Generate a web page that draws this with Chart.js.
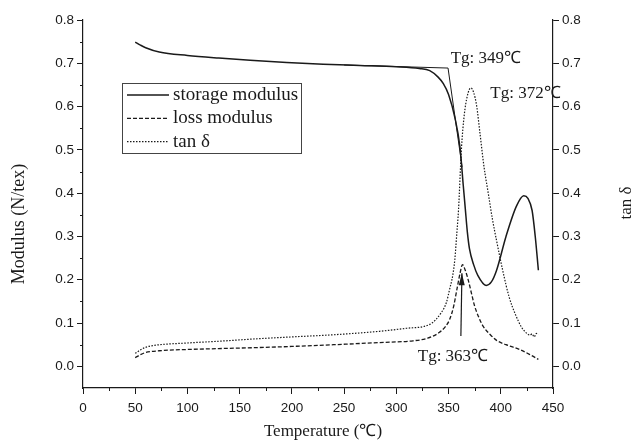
<!DOCTYPE html>
<html><head><meta charset="utf-8">
<script src="https://cdn.jsdelivr.net/npm/chart.js@4"></script>
<style>html,body{margin:0;padding:0;background:#fff}#wrap{width:640px;height:444px}</style>
</head><body><div id="wrap"><canvas id="c" width="640" height="444"></canvas></div>
<script>
const storageT = [50,55,60,73,100,130,160,195,230,265,300,322,332,340,345,350,356,361,364,366,368,370,374,378,386,391,396,405,415,422,426,430,433,436];
const storageV = [0.749,0.742,0.736,0.726,0.718,0.712,0.707,0.702,0.698,0.695,0.692,0.688,0.683,0.668,0.653,0.628,0.575,0.505,0.42,0.365,0.31,0.272,0.235,0.21,0.187,0.195,0.222,0.300,0.370,0.394,0.388,0.36,0.30,0.222];
const lossT = [50,55,60,73,100,130,162,200,240,284,316,330,341,347,351,355,358,361,363.3,366,369,372,375,379,383,390,396,405,418,428,436];
const lossV = [0.020,0.027,0.032,0.036,0.039,0.041,0.043,0.046,0.050,0.055,0.059,0.065,0.078,0.092,0.108,0.140,0.178,0.215,0.235,0.222,0.198,0.168,0.139,0.113,0.093,0.073,0.060,0.050,0.039,0.027,0.016];
const tanT = [50,55,60,67,100,130,162,200,240,284,310,332,343,348,351,354,356,358,359.5,362.4,365,368,371.3,374,377,380,384,388,392,396,402,408,414,420,425,428,430,432,434,436];
const tanV = [0.030,0.038,0.044,0.048,0.054,0.058,0.063,0.068,0.073,0.081,0.088,0.097,0.124,0.148,0.178,0.21,0.247,0.31,0.36,0.505,0.58,0.625,0.643,0.633,0.60,0.54,0.46,0.40,0.34,0.29,0.22,0.16,0.12,0.09,0.076,0.072,0.075,0.068,0.076,0.073];
const tangent1T = [250,349.5], tangent1V = [0.696,0.689];
const tangent2T = [349.5,363], tangent2V = [0.689,0.46];
const arrowT = [361.8,362.8], arrowV = [0.07,0.215];
const xTicks = [0,50,100,150,200,250,300,350,400,450];
const yTicks = [0.0,0.1,0.2,0.3,0.4,0.5,0.6,0.7,0.8];
const legendLabels = ['storage modulus','loss modulus','tan δ'];
const notes = [{t:'Tg: 349℃',x:352,y:0.712},{t:'Tg: 372℃',x:390,y:0.630},{t:'Tg: 363℃',x:320.5,y:0.023}];

const pts = (xs,ys)=>xs.map((x,i)=>({x,y:ys[i]}));
const INK = '#1a1a1a';
const styles = [
  {borderColor:INK,borderWidth:1.5,borderDash:[]},
  {borderColor:INK,borderWidth:1.3,borderDash:[4,2]},
  {borderColor:INK,borderWidth:1.2,borderDash:[1.5,1.5]}
];
const mk = (data,st,yAxisID,extra)=>Object.assign({data,yAxisID:yAxisID||'y',pointRadius:0,fill:false,cubicInterpolationMode:'monotone'},st,extra||{});

const decor = {
  id:'decor',
  afterDraw(chart){
    const ctx=chart.ctx, xs=chart.scales.x, ys=chart.scales.y, ca=chart.chartArea;
    ctx.save();
    ctx.strokeStyle=INK; ctx.lineWidth=1;
    for(let v=25; v<450; v+=50){const px=Math.round(xs.getPixelForValue(v))+0.5; ctx.beginPath(); ctx.moveTo(px,ca.bottom); ctx.lineTo(px,ca.bottom+3); ctx.stroke();}
    for(let v=0.05; v<0.8; v+=0.1){const py=Math.round(ys.getPixelForValue(v))+0.5; ctx.beginPath(); ctx.moveTo(ca.left,py); ctx.lineTo(ca.left-3,py); ctx.stroke();}
    const tx=xs.getPixelForValue(arrowT[1]), ty=ys.getPixelForValue(arrowV[1]);
    const bx=xs.getPixelForValue(arrowT[0]), by=ys.getPixelForValue(arrowV[0]);
    const ang=Math.atan2(ty-by,tx-bx), L=12, W=3;
    ctx.fillStyle=INK; ctx.beginPath();
    ctx.moveTo(tx,ty);
    ctx.lineTo(tx-L*Math.cos(ang)+W*Math.sin(ang), ty-L*Math.sin(ang)-W*Math.cos(ang));
    ctx.lineTo(tx-L*Math.cos(ang)-W*Math.sin(ang), ty-L*Math.sin(ang)+W*Math.cos(ang));
    ctx.closePath(); ctx.fill();
    ctx.font='17px "Liberation Serif"'; ctx.fillStyle=INK; ctx.textBaseline='middle'; ctx.textAlign='left';
    notes.forEach(n=>ctx.fillText(n.t, xs.getPixelForValue(n.x), ys.getPixelForValue(n.y)));
    const lx=ca.left+39, ly=ca.top+63, lw=179, lh=70;
    ctx.lineWidth=1; ctx.strokeStyle='#444'; ctx.setLineDash([]);
    ctx.strokeRect(lx+0.5,ly+0.5,lw,lh);
    ctx.font='19px "Liberation Serif"';
    legendLabels.forEach((lab,i)=>{
      const y=ly+12+i*23.3;
      const ds=chart.data.datasets[i];
      ctx.save(); ctx.strokeStyle=ds.borderColor; ctx.lineWidth=ds.borderWidth; ctx.setLineDash(ds.borderDash);
      ctx.beginPath(); ctx.moveTo(lx+5,y); ctx.lineTo(lx+47,y); ctx.stroke(); ctx.restore();
      ctx.fillText(lab, lx+51, y);
    });
    ctx.font='17px "Liberation Serif"'; ctx.textAlign='center';
    ctx.fillText('Temperature (℃)', 323, 432);
    ctx.save(); ctx.translate(19, 224); ctx.rotate(-Math.PI/2); ctx.font='18px "Liberation Serif"'; ctx.fillText('Modulus (N/tex)',0,0); ctx.restore();
    ctx.save(); ctx.translate(627, 203); ctx.rotate(-Math.PI/2); ctx.fillText('tan δ',0,0); ctx.restore();
    ctx.restore();
  }
};

const tickFont = {family:'"Liberation Sans"', size:13.5};
const yAxis = (pos)=>({
  type:'linear', position:pos, min:-0.05, max:0.8,
  afterBuildTicks:s=>{s.ticks=yTicks.map(v=>({value:v}));},
  ticks:{color:INK,font:tickFont,padding:3,callback:v=>Number(v).toFixed(1)},
  grid:{drawOnChartArea:false,color:INK,tickLength:6,tickWidth:1},
  border:{color:INK,width:1.2},
  afterFit:s=>{s.width = pos==='left'?83:87;}
});

new Chart(document.getElementById('c'),{
  type:'line',
  data:{datasets:[
    mk(pts(storageT,storageV),styles[0]),
    mk(pts(lossT,lossV),styles[1]),
    mk(pts(tanT,tanV),styles[2],'y2'),
    mk(pts(tangent1T,tangent1V),{borderColor:INK,borderWidth:1,borderDash:[]},'y',{cubicInterpolationMode:'default',tension:0}),
    mk(pts(tangent2T,tangent2V),{borderColor:INK,borderWidth:1,borderDash:[]},'y',{cubicInterpolationMode:'default',tension:0}),
    mk(pts(arrowT,arrowV),{borderColor:INK,borderWidth:1.2,borderDash:[]},'y',{cubicInterpolationMode:'default',tension:0})
  ]},
  options:{
    responsive:false, animation:false, parsing:false,
    layout:{padding:{top:20,left:0,right:0,bottom:0}},
    plugins:{legend:{display:false},tooltip:{enabled:false}},
    scales:{
      x:{type:'linear',min:0,max:450,
        afterBuildTicks:s=>{s.ticks=xTicks.map(v=>({value:v}));},
        ticks:{color:INK,font:tickFont,padding:6,maxRotation:0},
        grid:{drawOnChartArea:false,color:INK,tickLength:6},
        border:{color:INK,width:1.2},
        afterFit:s=>{s.height=56;}
      },
      y:yAxis('left'),
      y2:yAxis('right')
    }
  },
  plugins:[decor]
});
</script></body></html>
